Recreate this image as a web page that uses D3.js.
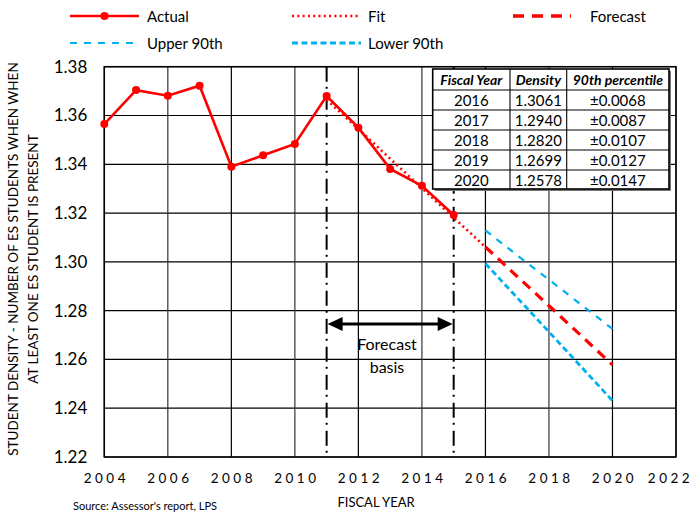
<!DOCTYPE html>
<html><head><meta charset="utf-8">
<script src="https://cdn.jsdelivr.net/npm/d3@7"></script>
<style>body{margin:0;background:#fff;} svg{display:block;font-family:Lato,"Open Sans",sans-serif;}</style>
</head><body><svg id="c" width="695" height="512"></svg>
<script>
const years = [2004,2005,2006,2007,2008,2009,2010,2011,2012,2013,2014,2015];
const actual = [1.3565,1.3704,1.3681,1.3722,1.3390,1.3437,1.3483,1.3680,1.3550,1.3381,1.3312,1.3192];
const fitYears = [2011,2012,2013,2014,2015,2016];
const fit = [1.3665,1.3544,1.3423,1.3302,1.3181,1.3061];
const fcYears = [2016,2017,2018,2019,2020];
const forecast = [1.3061,1.2940,1.2820,1.2699,1.2578];
const pct = [0.0068,0.0087,0.0107,0.0127,0.0147];
const xTicks = [2004,2006,2008,2010,2012,2014,2016,2018,2020,2022];
const yTicks = [1.22,1.24,1.26,1.28,1.30,1.32,1.34,1.36,1.38];
const basisYears = [2011,2015];
const tableHeader = ["Fiscal Year","Density","90th percentile"];

const svg = d3.select("#c");
const L=104.3, R=676, T=66.7, B=457;
const x = d3.scaleLinear().domain([2004,2022]).range([L,R]);
const y = d3.scaleLinear().domain([1.22,1.38]).range([B,T]);
const RED="#ff0000", BLUE="#00b0f0";

// grid
const g = svg.append("g");
g.selectAll(".hg").data(yTicks).join("line")
  .attr("x1",L).attr("x2",R).attr("y1",d=>y(d)).attr("y2",d=>y(d))
  .attr("stroke","#000").attr("stroke-width",1.2);
g.selectAll(".vg").data(xTicks).join("line")
  .attr("y1",T).attr("y2",B).attr("x1",d=>x(d)).attr("x2",d=>x(d))
  .attr("stroke",(d,i)=> (i%2? "#333":"#000")).attr("stroke-width",1.2);
g.append("rect").attr("x",L).attr("y",T).attr("width",R-L).attr("height",B-T)
  .attr("fill","none").attr("stroke","#000").attr("stroke-width",1.5);

// axes labels
const yAxis = d3.axisLeft(y).tickValues(yTicks).tickFormat(d3.format(".2f")).tickSize(0).tickPadding(17);
const ya = svg.append("g").attr("transform",`translate(${L},0)`).call(yAxis);
ya.select(".domain").remove();
ya.selectAll("text").attr("font-family","Lato").attr("font-size",17).attr("fill","#000");

const xAxis = d3.axisBottom(x).tickValues(xTicks).tickFormat(d3.format("d")).tickSize(0).tickPadding(16);
const xa = svg.append("g").attr("transform",`translate(0,${B})`).call(xAxis);
xa.select(".domain").remove();
xa.selectAll("text").attr("font-family","Lato").attr("font-size",13.5).attr("fill","#000")
  .attr("letter-spacing","3.5px").attr("dx",d=> d===2022 ? "-6" : "1.5");

// vertical dash-dot lines
svg.selectAll(".dd").data(basisYears).join("line")
  .attr("x1",d=>x(d)).attr("x2",d=>x(d)).attr("y1",T).attr("y2",B)
  .attr("stroke","#000").attr("stroke-width",2).attr("stroke-dasharray","15,5,2,6");

// arrow
const ay = 324;
svg.append("line").attr("x1",x(2011)+12).attr("x2",x(2015)-12).attr("y1",ay).attr("y2",ay)
  .attr("stroke","#000").attr("stroke-width",3);
const ah = (tip,dir)=> svg.append("path")
  .attr("d",`M${tip},${ay} L${tip-dir*15},${ay-7} L${tip-dir*15},${ay+7} Z`).attr("fill","#000");
ah(x(2011)+1,-1); ah(x(2015)-1,1);
svg.append("text").attr("x",387).attr("y",350).attr("text-anchor","middle").attr("font-size",16).text("Forecast");
svg.append("text").attr("x",387).attr("y",373).attr("text-anchor","middle").attr("font-size",16).text("basis");

// series
const line = d3.line().x(d=>x(d[0])).y(d=>y(d[1]));
const upper = forecast.map((v,i)=>v+pct[i]);
const lower = forecast.map((v,i)=>v-pct[i]);
svg.append("path").attr("d",line(fcYears.map((yr,i)=>[yr,upper[i]])))
  .attr("fill","none").attr("stroke",BLUE).attr("stroke-width",2.2).attr("stroke-dasharray","7,7");
svg.append("path").attr("d",line(fcYears.map((yr,i)=>[yr,lower[i]])))
  .attr("fill","none").attr("stroke",BLUE).attr("stroke-width",2.8).attr("stroke-dasharray","6,3.5");
svg.append("path").attr("d",line(fcYears.map((yr,i)=>[yr,forecast[i]])))
  .attr("fill","none").attr("stroke",RED).attr("stroke-width",3.2).attr("stroke-dasharray","10,7");
svg.append("path").attr("d",line(fitYears.map((yr,i)=>[yr,fit[i]])))
  .attr("fill","none").attr("stroke",RED).attr("stroke-width",2.6).attr("stroke-dasharray","2,3.3");
svg.append("path").attr("d",line(years.map((yr,i)=>[yr,actual[i]])))
  .attr("fill","none").attr("stroke",RED).attr("stroke-width",2.6);
svg.selectAll(".pt").data(years).join("circle")
  .attr("cx",d=>x(d)).attr("cy",(d,i)=>y(actual[i])).attr("r",4).attr("fill",RED);

// table
const tx=[432.7,510,566.7,669], tyy=[69,90,110,130,150,170,189];
const tb = svg.append("g");
tb.append("rect").attr("x",tx[0]+2).attr("y",tyy[0]+2).attr("width",tx[3]-tx[0]).attr("height",tyy[6]-tyy[0]).attr("fill","#777");
tb.append("rect").attr("x",tx[0]).attr("y",tyy[0]).attr("width",tx[3]-tx[0]).attr("height",tyy[6]-tyy[0])
  .attr("fill","#fff").attr("stroke","#000").attr("stroke-width",1.6);
tb.selectAll(".tr").data(tyy.slice(1,6)).join("line").attr("x1",tx[0]).attr("x2",tx[3]).attr("y1",d=>d).attr("y2",d=>d).attr("stroke","#000").attr("stroke-width",1.1);
tb.selectAll(".tc").data(tx.slice(1,3)).join("line").attr("y1",tyy[0]).attr("y2",tyy[6]).attr("x1",d=>d).attr("x2",d=>d).attr("stroke","#000").attr("stroke-width",1.1);
tableHeader.forEach((h,j)=>{
  tb.append("text").attr("x",(tx[j]+tx[j+1])/2).attr("y",tyy[0]+16).attr("text-anchor","middle")
    .attr("font-size",14).attr("font-weight","bold").attr("font-style","italic").text(h);
});
fcYears.forEach((yr,i)=>{
  const row=[String(yr), forecast[i].toFixed(4), "\u00b1"+pct[i].toFixed(4)];
  row.forEach((t,j)=>{
    tb.append("text").attr("x",(tx[j]+tx[j+1])/2).attr("y",tyy[i+1]+15.5).attr("text-anchor","middle")
      .attr("font-size",15).text(t);
  });
});

// legend
const lg = svg.append("g").attr("font-size",15);
const legend = [
  {x1:70,x2:139,y:16,tx:147,label:"Actual",w:2.6,c:RED,da:null,marker:true},
  {x1:292,x2:360,y:16,tx:368,label:"Fit",w:2.6,c:RED,da:"2,3.3"},
  {x1:513,x2:571,y:16,tx:590,label:"Forecast",w:3.5,c:RED,da:"11,8"},
  {x1:70,x2:134,y:43,tx:147,label:"Upper 90th",w:2.2,c:BLUE,da:"7,7"},
  {x1:292,x2:361,y:43,tx:368,label:"Lower 90th",w:2.8,c:BLUE,da:"6,3.5"}
];
legend.forEach(d=>{
  lg.append("line").attr("x1",d.x1).attr("x2",d.x2).attr("y1",d.y).attr("y2",d.y)
    .attr("stroke",d.c).attr("stroke-width",d.w).attr("stroke-dasharray",d.da);
  if(d.marker) lg.append("circle").attr("cx",(d.x1+d.x2)/2).attr("cy",d.y).attr("r",4).attr("fill",d.c);
  lg.append("text").attr("x",d.tx).attr("y",d.y+5.5).text(d.label);
});

// titles
const yl = svg.append("text").attr("transform","translate(0,259) rotate(-90)").attr("text-anchor","middle").attr("font-size",13.5);
yl.append("tspan").attr("x",0).attr("y",18).text("STUDENT DENSITY - NUMBER OF ES STUDENTS WHEN WHEN");
yl.append("tspan").attr("x",0).attr("y",38).text("AT LEAST ONE ES STUDENT IS PRESENT");
svg.append("text").attr("x",376).attr("y",507).attr("text-anchor","middle").attr("font-size",13).text("FISCAL YEAR");
svg.append("text").attr("x",73).attr("y",510).attr("font-size",11).text("Source: Assessor's report, LPS");
</script></body></html>
